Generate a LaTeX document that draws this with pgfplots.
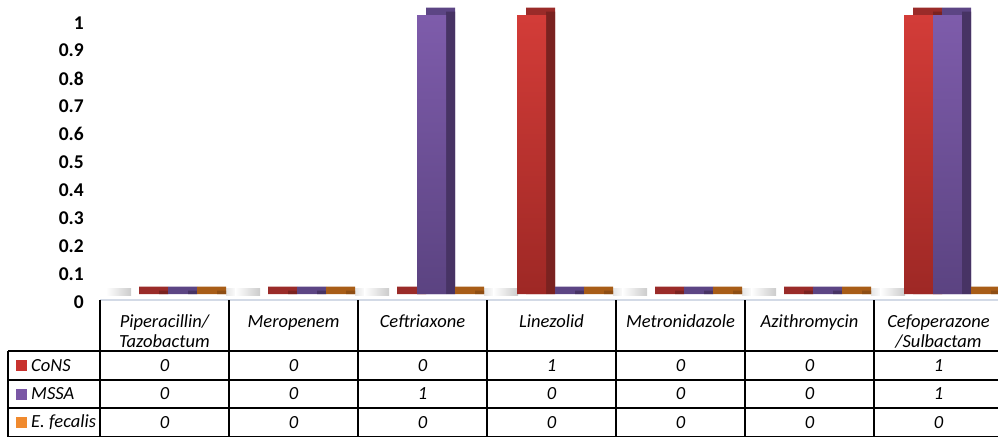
\documentclass[border=0pt]{standalone}
\usepackage{pgfplots}
\pgfplotsset{compat=1.18}
\usepackage{pgfplotstable}
\usepackage{fontspec}
\setmainfont{Carlito}
\definecolor{redT}{HTML}{D33C38}
\definecolor{redB}{HTML}{9E2825}
\definecolor{redD}{HTML}{7A2220}
\definecolor{redU}{HTML}{9A2B29}
\definecolor{purT}{HTML}{7E5CAB}
\definecolor{purB}{HTML}{5B4381}
\definecolor{purD}{HTML}{473364}
\definecolor{purU}{HTML}{5C4584}
\definecolor{oraT}{HTML}{F0892F}
\definecolor{oraB}{HTML}{D0701E}
\definecolor{oraD}{HTML}{8E4E14}
\definecolor{oraU}{HTML}{A85D17}
\definecolor{legRed}{HTML}{C8322E}
\definecolor{legPur}{HTML}{7A57A5}
\definecolor{legOra}{HTML}{F08A2E}
\definecolor{floorline}{HTML}{D3DAE6}
\pgfplotstableread{
x cons mssa fec
0 0 0 0
1 0 0 0
2 0 1 0
3 1 0 0
4 0 0 0
5 0 0 0
6 1 1 0
}\datatable
\newcommand{\hs}{\rule{0pt}{13bp}}
\begin{document}
\fontsize{18.5bp}{20bp}\selectfont
\begin{tikzpicture}
\path[use as bounding box] (0bp,0bp) rectangle (998bp,-437bp);
% floor shadows
\begin{scope}[x=1bp, y=-1bp]
\foreach \k in {0,...,6} {
  \shade[left color=white, right color=black!20] ({100+129*\k+6},288) rectangle ({100+129*\k+31},295);
  \shade[left color=black!10, right color=white] ({100+129*\k+126},288) rectangle ({100+129*\k+137},295);
}
\end{scope}
\begin{axis}[
  at={(100bp,-294bp)}, anchor=south west,
  scale only axis, width=903bp, height=294bp,
  xmin=-0.5, xmax=6.5, ymin=0, ymax=1.0538,
  clip=false,
  axis line style={draw=none},
  major tick length=0pt,
  /pgf/number format/assume math mode=true,
  xtick={0,...,6},
  xticklabels={{\hs Piperacillin/\\Tazobactum},{\hs Meropenem},{\hs Ceftriaxone},{\hs Linezolid},{\hs Metronidazole},{\hs Azithromycin},{\hs Cefoperazone\\/Sulbactam}},
  xticklabel style={align=center, anchor=north, inner sep=0pt, yshift=-20bp, font=\itshape\fontsize{18.5bp}{20bp}\selectfont},
  ytick={0,0.1,0.2,0.3,0.4,0.5,0.6,0.7,0.8,0.9,1},
  yticklabel style={font=\bfseries\fontsize{19.5bp}{20bp}\selectfont, anchor=east, inner sep=0pt, xshift=-16bp, yshift=-7.7bp},
]
% CoNS
\addplot[ybar, bar width=29bp, bar shift=-11bp, draw=none, fill=redU] table[x=x, y expr=\thisrow{cons}+0.0268] {\datatable};
\addplot[ybar, bar width=9bp, bar shift=-1bp, draw=none, fill=redD] table[x=x, y expr=\thisrow{cons}+0.012] {\datatable};
\addplot[ybar, bar width=29bp, bar shift=-20bp, draw=none, top color=redT, bottom color=redB, y filter/.expression={y==0 ? nan : y}] table[x=x, y=cons] {\datatable};
% MSSA
\addplot[ybar, bar width=29bp, bar shift=18bp, draw=none, fill=purU] table[x=x, y expr=\thisrow{mssa}+0.0268] {\datatable};
\addplot[ybar, bar width=9bp, bar shift=28bp, draw=none, fill=purD] table[x=x, y expr=\thisrow{mssa}+0.012] {\datatable};
\addplot[ybar, bar width=29bp, bar shift=9bp, draw=none, top color=purT, bottom color=purB, y filter/.expression={y==0 ? nan : y}] table[x=x, y=mssa] {\datatable};
% E. fecalis
\addplot[ybar, bar width=29bp, bar shift=47bp, draw=none, fill=oraU] table[x=x, y expr=\thisrow{fec}+0.0268] {\datatable};
\addplot[ybar, bar width=9bp, bar shift=57bp, draw=none, fill=oraD] table[x=x, y expr=\thisrow{fec}+0.012] {\datatable};
\addplot[ybar, bar width=29bp, bar shift=38bp, draw=none, top color=oraT, bottom color=oraB, y filter/.expression={y==0 ? nan : y}] table[x=x, y=fec] {\datatable};
% data table values
\addplot[draw=none, mark=none, nodes near coords, point meta=explicit,
  every node near coord/.style={anchor=center, inner sep=0pt, yshift=-71.5bp, font=\itshape}] table[x=x, y expr=0, meta=cons] {\datatable};
\addplot[draw=none, mark=none, nodes near coords, point meta=explicit,
  every node near coord/.style={anchor=center, inner sep=0pt, yshift=-100bp, font=\itshape}] table[x=x, y expr=0, meta=mssa] {\datatable};
\addplot[draw=none, mark=none, nodes near coords, point meta=explicit,
  every node near coord/.style={anchor=center, inner sep=0pt, yshift=-128.5bp, font=\itshape}] table[x=x, y expr=0, meta=fec] {\datatable};
\end{axis}
\begin{scope}[x=1bp, y=-1bp]
\draw[floorline, line width=1.2bp] (100,300) -- (1003,300);
\foreach \k in {0,...,7} {\draw[black, line width=1.2bp] ({100+129*\k},300) -- ({100+129*\k},437);}
\foreach \yy in {351,380,408,436.4} {\draw[black, line width=1.2bp] (8,\yy) -- (1003,\yy);}
\draw[black, line width=1.2bp] (8,351) -- (8,437);
\fill[legRed] (16,360) rectangle (27,371);
\fill[legPur] (16,388.5) rectangle (27,399.5);
\fill[legOra] (16,417) rectangle (27,428);
\node[anchor=west, inner sep=0pt, font=\itshape] at (31,365.5) {CoNS};
\node[anchor=west, inner sep=0pt, font=\itshape] at (31,394) {MSSA};
\node[anchor=west, inner sep=0pt, font=\itshape] at (31,422.5) {E. fecalis};
\end{scope}
\end{tikzpicture}
\end{document}
